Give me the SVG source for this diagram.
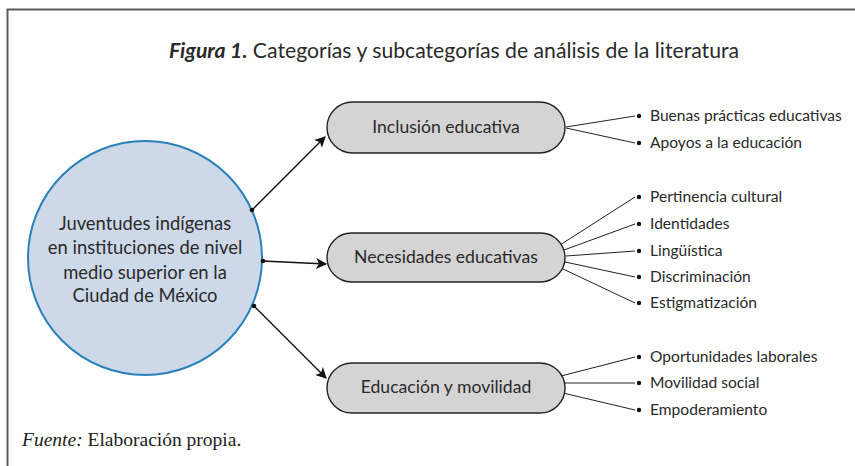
<svg xmlns="http://www.w3.org/2000/svg" width="855" height="466" viewBox="0 0 855 466">
<defs>
<style>
.sans{font-family:Lato,"Open Sans","DejaVu Sans",sans-serif;fill:#2a2a2a}
.pill{fill:#d4d4d4;stroke:#222;stroke-width:1.4}
.pt{font-size:17.6px;text-anchor:middle}
.sub{font-size:15.6px}
.ln{stroke:#222;stroke-width:1;fill:none}
.ar{stroke:#111;stroke-width:1.3;fill:none;marker-end:url(#ah)}
.dot{fill:#111}
</style>
<marker id="ah" viewBox="0 0 10 10" refX="9" refY="5" markerWidth="11" markerHeight="11" markerUnits="userSpaceOnUse" orient="auto">
<path d="M0,0 L10,5 L0,10 L2.5,5 Z" fill="#111"/>
</marker>
</defs>
<rect width="855" height="466" fill="#fff"/>
<path d="M7.5,466 V9.5 H855" fill="none" stroke="#5a5a5a" stroke-width="2"/>
<text x="454" y="58" class="sans" font-size="21.2" text-anchor="middle"><tspan font-weight="bold" font-style="italic">Figura 1.</tspan> Categorías y subcategorías de análisis de la literatura</text>

<g id="center">
<circle cx="145" cy="258" r="117" fill="#cdd9e9" stroke="#2a80b9" stroke-width="2"/>
<text class="sans" font-size="18.4" text-anchor="middle"><tspan x="145" y="230">Juventudes indígenas</tspan><tspan x="145" y="254">en instituciones de nivel</tspan><tspan x="145" y="279">medio superior en la</tspan><tspan x="145" y="302">Ciudad de México</tspan></text>
</g>

<g id="connectors">
<line class="ar" x1="252" y1="210" x2="325" y2="137"/>
<line class="ar" x1="263" y1="261" x2="326" y2="264"/>
<line class="ar" x1="254" y1="306" x2="326" y2="378"/>
<circle class="dot" cx="252" cy="210" r="2.3"/>
<circle class="dot" cx="263" cy="261" r="2.3"/>
<circle class="dot" cx="254" cy="306" r="2.3"/>
<line class="ln" x1="566" y1="127" x2="635" y2="116"/>
<line class="ln" x1="566" y1="128" x2="635" y2="143"/>
<line class="ln" x1="560" y1="245" x2="635" y2="197"/>
<line class="ln" x1="564" y1="250" x2="635" y2="224"/>
<line class="ln" x1="566" y1="256" x2="635" y2="251"/>
<line class="ln" x1="565" y1="262" x2="635" y2="277"/>
<line class="ln" x1="561" y1="268" x2="635" y2="303"/>
<line class="ln" x1="561" y1="376" x2="635" y2="357"/>
<line class="ln" x1="565" y1="383" x2="635" y2="383"/>
<line class="ln" x1="563" y1="393" x2="635" y2="410"/>
</g>

<g id="n1">
<rect class="pill" x="327" y="102" width="238" height="51" rx="25.5"/>
<text class="sans pt" x="446" y="133">Inclusión educativa</text>
</g>
<g id="n2">
<rect class="pill" x="327" y="233" width="238" height="49" rx="24.5"/>
<text class="sans pt" x="446" y="263">Necesidades educativas</text>
</g>
<g id="n3">
<rect class="pill" x="327" y="363" width="238" height="50" rx="25"/>
<text class="sans pt" x="446" y="393">Educación y movilidad</text>
</g>

<g id="subs" class="sans sub">
<g id="s1"><circle class="dot" cx="639" cy="116" r="2.2"/><text x="650" y="121">Buenas prácticas educativas</text></g>
<g id="s2"><circle class="dot" cx="639" cy="143" r="2.2"/><text x="650" y="148">Apoyos a la educación</text></g>
<g id="s3"><circle class="dot" cx="639" cy="197" r="2.2"/><text x="650" y="202">Pertinencia cultural</text></g>
<g id="s4"><circle class="dot" cx="639" cy="224" r="2.2"/><text x="650" y="229">Identidades</text></g>
<g id="s5"><circle class="dot" cx="639" cy="251" r="2.2"/><text x="650" y="256">Lingüística</text></g>
<g id="s6"><circle class="dot" cx="639" cy="277" r="2.2"/><text x="650" y="282">Discriminación</text></g>
<g id="s7"><circle class="dot" cx="639" cy="303" r="2.2"/><text x="650" y="308">Estigmatización</text></g>
<g id="s8"><circle class="dot" cx="639" cy="357" r="2.2"/><text x="650" y="362">Oportunidades laborales</text></g>
<g id="s9"><circle class="dot" cx="639" cy="383" r="2.2"/><text x="650" y="388">Movilidad social</text></g>
<g id="s10"><circle class="dot" cx="639" cy="410" r="2.2"/><text x="650" y="415">Empoderamiento</text></g>
</g>

<text x="22" y="446" font-family="'Liberation Serif',serif" font-size="19.5" fill="#222"><tspan font-style="italic">Fuente:</tspan> Elaboración propia.</text>
</svg>
